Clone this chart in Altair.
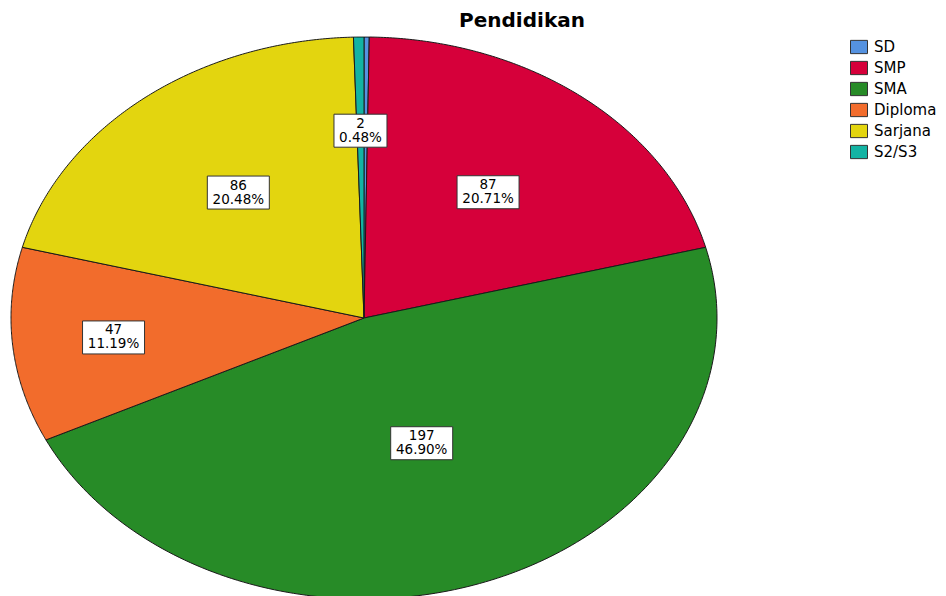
import altair as alt
import pandas as pd

# ---- data ----
categories = ["SD", "SMP", "SMA", "Diploma", "Sarjana", "S2/S3"]
counts = [1, 87, 197, 47, 86, 2]
colors = ["#5592e0", "#d6003a", "#278b27", "#f26c2c", "#e3d50f", "#13b3a3"]
title_text = "Pendidikan"

df = pd.DataFrame({"kategori": categories, "jumlah": counts,
                   "urut": list(range(len(categories)))})

# ---- layout (pixels) ----
W, H = 930, 588
CX, CY, RX, RY = 356, 310, 353, 281   # ellipse centre / radii inside plot area
N = 160                               # points per slice outline
FONT = "DejaVu Sans"

xs = alt.Scale(domain=[-CX / RX, (W - CX) / RX], nice=False, zero=False)
ys = alt.Scale(domain=[-(H - CY) / RY, CY / RY], nice=False, zero=False)

base = alt.Chart(df).transform_window(
    kum="sum(jumlah)", sort=[alt.SortField("urut")], frame=[None, 0]
).transform_joinaggregate(
    total="sum(jumlah)"
).transform_calculate(
    f0="(datum.kum - datum.jumlah) / datum.total",
    f1="datum.kum / datum.total",
)

slices = base.transform_calculate(
    pts=f"sequence(0, {N + 3})"
).transform_flatten(["pts"]).transform_calculate(
    t=f"clamp((datum.pts - 1) / {N}, 0, 1)",
    ang="2 * PI * (datum.f0 + (datum.f1 - datum.f0) * datum.t)",
    px=f"(datum.pts == 0 || datum.pts == {N + 2}) ? 0 : sin(datum.ang)",
    py=f"(datum.pts == 0 || datum.pts == {N + 2}) ? 0 : cos(datum.ang)",
).mark_line(
    filled=True, stroke="#1a1a1a", strokeWidth=1, strokeJoin="round", opacity=1
).encode(
    x=alt.X("px:Q", scale=xs, axis=None),
    y=alt.Y("py:Q", scale=ys, axis=None),
    color=alt.Color(
        "kategori:N",
        scale=alt.Scale(domain=categories, range=colors),
        legend=alt.Legend(
            title=None, orient="none", legendX=842, legendY=30,
            symbolType="M-1,-0.78H1V0.78H-1Z", symbolSize=289,
            symbolStrokeColor="#333333", symbolStrokeWidth=1,
            symbolOpacity=1,
            labelFont=FONT, labelFontSize=15, labelColor="#000000",
            labelOffset=6, rowPadding=3,
        ),
    ),
    order=alt.Order("pts:Q"),
    detail="kategori:N",
)

# label placement: pushed out far enough for the box to fit inside the wedge;
# wedges too narrow for that fall back to the wedge centroid
labels = base.transform_filter("datum.kategori != 'SD'").transform_calculate(
    a="PI * (datum.f1 - datum.f0)",
    mid="PI * (datum.f0 + datum.f1)",
    rcen="2 * sin(datum.a) / (3 * datum.a)",
    rfit="0.40 + 0.11 / datum.a",
    rc="datum.rfit <= 0.8 ? datum.rfit : datum.rcen",
    lx="datum.rc * sin(datum.mid)",
    ly="datum.rc * cos(datum.mid)",
    pct="format(100 * datum.jumlah / datum.total, '.2f') + '%'",
    teks="toString(datum.jumlah) + '\\n' + datum.pct",
    bw="9 * length(datum.pct) + 8",
    bx1=f"datum.lx - datum.bw / 2 / {RX}",
    bx2=f"datum.lx + datum.bw / 2 / {RX}",
    by1=f"datum.ly - 16.5 / {RY}",
    by2=f"datum.ly + 16.5 / {RY}",
)

boxes = labels.mark_rect(fill="white", stroke="#333333", strokeWidth=1).encode(
    x=alt.X("bx1:Q", scale=xs, axis=None),
    x2="bx2:Q",
    y=alt.Y("by1:Q", scale=ys, axis=None),
    y2="by2:Q",
)

texts = labels.mark_text(
    font=FONT, fontSize=13.5, lineHeight=14, lineBreak="\n",
    align="center", baseline="middle", dy=-7, color="#000000",
).encode(
    x=alt.X("lx:Q", scale=xs, axis=None),
    y=alt.Y("ly:Q", scale=ys, axis=None),
    text="teks:N",
)

title = alt.Chart(pd.DataFrame({"judul": [title_text]})).mark_text(
    font=FONT, fontSize=20, fontWeight="bold", color="#000000",
    align="center", baseline="alphabetic",
).encode(
    x=alt.value(514), y=alt.value(19), text="judul:N",
)

chart = alt.layer(slices, boxes, texts, title).properties(
    width=W, height=H,
    autosize=alt.AutoSizeParams(type="none"),
    padding=0,
    view=alt.ViewBackground(stroke="transparent", strokeWidth=0),
).configure_view(stroke="transparent", strokeWidth=0).configure(background="white")

chart.save("out.html", embed_options={"renderer": "svg", "actions": False})
